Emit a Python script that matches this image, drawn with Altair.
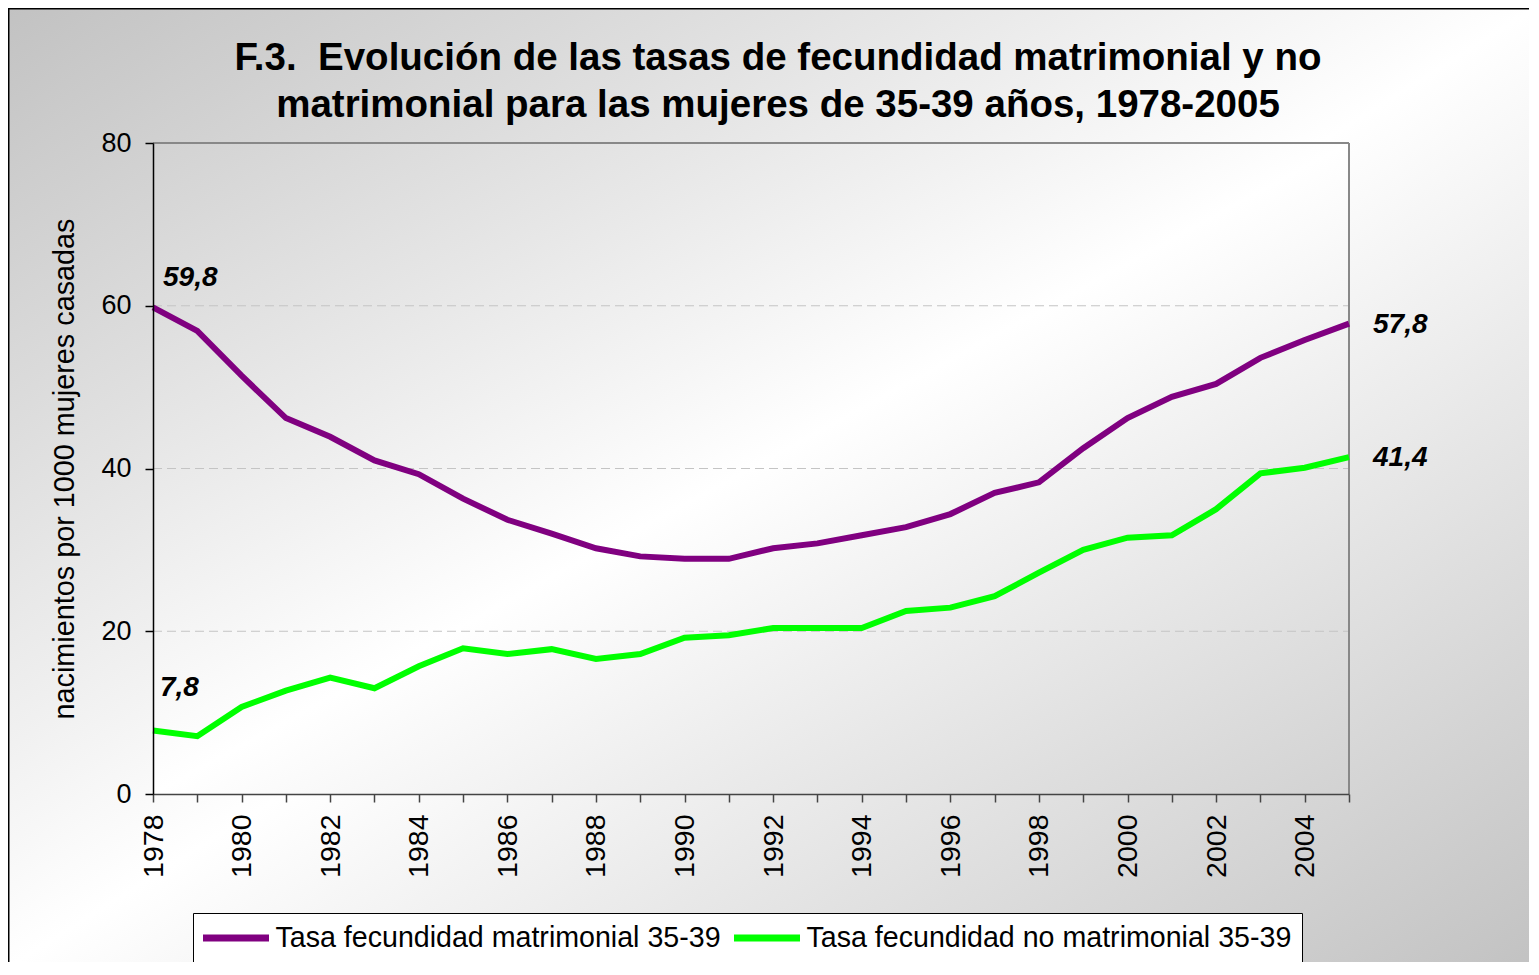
import altair as alt
import pandas as pd

# ---- data ----
years = list(range(1978, 2006))
matrimonial = [59.8, 56.9, 51.4, 46.2, 43.9, 41.0, 39.3, 36.3, 33.7, 32.0,
               30.2, 29.2, 28.9, 28.9, 30.2, 30.8, 31.8, 32.8, 34.4, 37.0,
               38.3, 42.5, 46.2, 48.8, 50.4, 53.6, 55.8, 57.8]
no_matrimonial = [7.8, 7.1, 10.7, 12.7, 14.3, 13.0, 15.7, 17.9, 17.2, 17.8,
                  16.6, 17.2, 19.2, 19.5, 20.4, 20.4, 20.4, 22.5, 22.9, 24.3,
                  27.2, 30.0, 31.5, 31.8, 35.0, 39.4, 40.1, 41.4]
series_names = ["Tasa fecundidad matrimonial 35-39",
                "Tasa fecundidad no matrimonial 35-39"]
series_colors = ["#800080", "#00ff00"]
y_ticks = [0, 20, 40, 60, 80]
grid_values = [20, 40, 60]
title_lines = ["F.3.\u00a0 Evolución de las tasas de fecundidad matrimonial y no",
               "matrimonial para las mujeres de 35-39 años, 1978-2005"]
y_title = "nacimientos por 1000 mujeres casadas"

W, H = 1196, 651
PAD = {"left": 145, "top": 135, "right": 180, "bottom": 168}
FONT = "Liberation Sans"

rows = []
for name, vals in zip(series_names, [matrimonial, no_matrimonial]):
    for yr, v in zip(years, vals):
        rows.append({"year": yr, "value": v, "serie": name})
df = pd.DataFrame(rows)


def fmt(v):
    return f"{v:.1f}".replace(".", ",")


lab_m_start = pd.DataFrame([{"year": years[0], "value": matrimonial[0], "t": fmt(matrimonial[0])}])
lab_n_start = pd.DataFrame([{"year": years[0], "value": no_matrimonial[0], "t": fmt(no_matrimonial[0])}])
lab_end = pd.DataFrame([
    {"year": years[-1], "value": matrimonial[-1], "t": fmt(matrimonial[-1])},
    {"year": years[-1], "value": no_matrimonial[-1], "t": fmt(no_matrimonial[-1])},
])
grid_df = pd.DataFrame({"value": grid_values})
one = pd.DataFrame({"k": [0]})

x_axis = alt.Axis(values=years, format="d",
                  labelExpr="datum.value % 2 == 0 ? datum.label : ''",
                  labelAngle=270, labelFontSize=28.5, labelFont=FONT, labelColor="black",
                  labelPadding=12, labelFlush=False, labelOverlap=False,
                  tickSize=8, tickColor="#444444", tickWidth=1.5,
                  domainColor="#444444", domainWidth=1.5,
                  grid=False, title=None, zindex=1)
y_axis = alt.Axis(values=y_ticks, labelFontSize=27, labelFont=FONT, labelColor="black",
                  labelPadding=14, labelFlush=False,
                  tickSize=8, tickColor="black", tickWidth=1.5,
                  domainColor="black", domainWidth=1.5, grid=False,
                  title=y_title, titleFontSize=28.8, titleFont=FONT,
                  titleFontWeight="normal", titleColor="black", titlePadding=21,
                  zindex=1)

x_enc = alt.X("year:Q", scale=alt.Scale(domain=[1978, 2005], nice=False, zero=False), axis=x_axis)
y_enc = alt.Y("value:Q", scale=alt.Scale(domain=[0, 80], nice=False), axis=y_axis)


def grad(edge, mid):
    return alt.LinearGradient(
        gradient="linear",
        stops=[alt.GradientStop(offset=0, color=edge),
               alt.GradientStop(offset=0.5, color=mid),
               alt.GradientStop(offset=1, color=edge)],
        x1=0, y1=0, x2=1, y2=1)


outer = alt.Chart(one).mark_rect(fill=grad("#c2c2c2", "#ffffff"), stroke="black",
                                 strokeWidth=1.5).encode(
    x=alt.value(-PAD["left"] + 0.75), x2=alt.value(W + PAD["right"] + 5),
    y=alt.value(-PAD["top"] + 0.75), y2=alt.value(H + PAD["bottom"] + 5))

plot_bg = alt.Chart(one).mark_rect(fill=grad("#d2d2d2", "#ffffff")).encode(
    x=alt.value(0), x2=alt.value(W), y=alt.value(0), y2=alt.value(H))

grid = alt.Chart(grid_df).mark_rule(color="#c4c4c4", strokeWidth=1, strokeDash=[9, 5]).encode(
    y=y_enc, x=alt.value(0), x2=alt.value(W))

top_border = alt.Chart(one).mark_rule(color="#888888", strokeWidth=2).encode(
    y=alt.value(0), x=alt.value(0), x2=alt.value(W))
right_border = alt.Chart(one).mark_rule(color="#888888", strokeWidth=2).encode(
    x=alt.value(W), y=alt.value(0), y2=alt.value(H))

lines = alt.Chart(df).mark_line(strokeWidth=6).encode(
    x=x_enc, y=y_enc,
    color=alt.Color("serie:N", sort=series_names,
                    scale=alt.Scale(domain=series_names, range=series_colors),
                    legend=alt.Legend(
                        title=None, orient="none", legendX=40, legendY=770,
                        direction="horizontal",
                        symbolType="M-3,0H3", symbolSize=484, symbolStrokeWidth=7,
                        symbolOffset=18.5, labelOffset=25,
                        labelFontSize=28.6, labelFont=FONT, labelColor="black",
                        labelLimit=2000, fillColor="white", strokeColor="black",
                        padding=10, columnPadding=-1, cornerRadius=0)))

txt = dict(font=FONT, fontSize=28, fontWeight="bold", fontStyle="italic",
           color="black", align="left", baseline="alphabetic")
t1 = alt.Chart(lab_m_start).mark_text(dx=10, dy=-21, **txt).encode(x=x_enc, y=y_enc, text="t:N")
t2 = alt.Chart(lab_n_start).mark_text(dx=7, dy=-35, **txt).encode(x=x_enc, y=y_enc, text="t:N")
t3 = alt.Chart(lab_end).mark_text(dx=24, dy=9, **txt).encode(x=x_enc, y=y_enc, text="t:N")

chart = alt.layer(outer, plot_bg, grid, top_border, right_border, lines, t1, t2, t3).properties(
    width=W, height=H,
    autosize=alt.AutoSizeParams(type="none"),
    padding=PAD,
    title=alt.TitleParams(text=title_lines, fontSize=38.5, font=FONT, fontWeight="bold",
                          color="black", anchor="middle", frame="group", dx=27,
                          offset=-147, lineHeight=47, baseline="alphabetic"),
).configure(background="#e0e0e0").configure_view(stroke=None)

chart.save("out.html", embed_options={"renderer": "svg", "actions": False})
